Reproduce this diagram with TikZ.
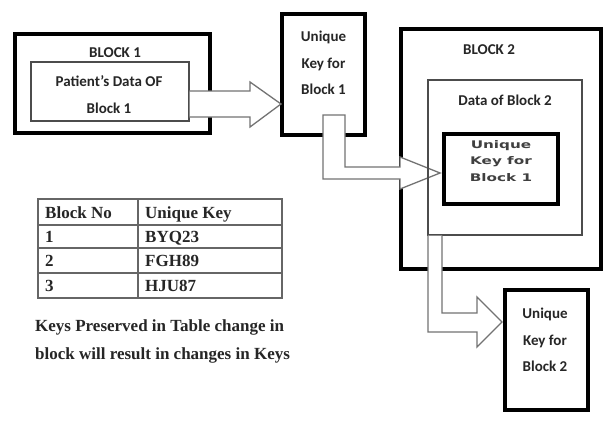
\documentclass[tikz,border=0pt]{standalone}
\usepackage{fontspec}
\setmainfont{Carlito}
\newfontfamily\tnr{Liberation Serif}
\newfontfamily\widefont[FakeStretch=1.45]{DejaVu Sans}
\usetikzlibrary{calc}
\tikzset{
  thickbox/.style={rectangle, draw=black, line width=3.5pt, fill=white, inner sep=0pt, outer sep=0pt},
  thinbox/.style={rectangle, draw=black!70, line width=1.2pt, inner sep=0pt, outer sep=0pt},
  arrowfill/.style={fill=white},
  arrowline/.style={draw=black!55, line width=1.3pt, line join=miter},
  lbl/.style={font=\bfseries\fontsize{15}{26.5}\selectfont, text=black!85, align=center, inner sep=0pt},
  widelbl/.style={font=\widefont\bfseries\fontsize{10.5}{16.5}\selectfont, text=black!75, align=center, inner sep=0pt},
  tbltxt/.style={font=\tnr\bfseries\fontsize{17}{20}\selectfont, text=black!85, anchor=base west, inner sep=0pt},
  gridline/.style={draw=black!60, line width=1.4pt},
}
\begin{document}
\begin{tikzpicture}[x=1pt,y=-1pt]
\useasboundingbox[fill=white] (0,0) rectangle (607,420);

% Block 1
\node[thickbox, minimum width=195pt, minimum height=99pt] (block1) at (112.5,83.5) {};
\node[thinbox, fill=white, minimum width=158pt, minimum height=59pt] (inner1) at (110,91.5) {};
\node[lbl] (b1lbl) at (115,53) {BLOCK 1};
\node[lbl] (p1lbl) at (109,94.5) {Patient's Data OF\\Block 1};

% Unique key for block 1
\node[thickbox, minimum width=83pt, minimum height=121pt] (key1) at (323.5,74.5) {};
\node[lbl] (k1lbl) at (323.5,63) {Unique\\Key for\\Block 1};

% Arrow 1 : inner1 -> key1
\coordinate (a1s) at (189,91);
\coordinate (a1e) at (189,117);
\coordinate (a1t) at (281,104);
\fill[arrowfill] (189.6,91) -- (250,91) -- (250,82) -- (a1t) -- (250,127) -- (250,117) -- (189.6,117) -- cycle;
\draw[arrowline] (a1s) -- (250,91) -- (250,82) -- (a1t) -- (250,127) -- (250,117) -- (a1e);

% Block 2
\node[thickbox, minimum width=200pt, minimum height=240pt] (block2) at (501,149) {};
\node[lbl] (b2lbl) at (489,50) {BLOCK 2};

% Arrow 2 : key1 -> keyin
\coordinate (a2t) at (440,173);
\fill[arrowfill] (323,115) -- (345,115) -- (345,167) -- (400,167) -- (400,157) -- (a2t) -- (400,189) -- (400,179) -- (323,179) -- cycle;
\draw[arrowline] (323,115) -- (345,115) -- (345,167) -- (400,167) -- (400,157) -- (a2t) -- (400,189) -- (400,179) -- (323,179) -- cycle;

% Data of block 2
\node[thinbox, minimum width=154pt, minimum height=155pt] (data2) at (505,157.5) {};
\node[lbl] (d2lbl) at (505,100) {Data of Block 2};

% Inner key box
\node[thickbox, minimum width=114pt, minimum height=70pt] (keyin) at (501,169) {};
\node[widelbl] (kilbl) at (501,161) {Unique\\Key for\\Block 1};

% Unique key for block 2
\node[thickbox, minimum width=83pt, minimum height=120pt] (key2) at (546.5,350) {};
\node[lbl] (k2lbl) at (545,340) {Unique\\Key for\\Block 2};

% Arrow 3 : data2 -> key2
\coordinate (a3s) at (428,235.6);
\coordinate (a3e) at (442,235.6);
\coordinate (a3t) at (502,322);
\fill[arrowfill] (a3s) -- (a3e) -- (442,313) -- (477,313) -- (477,297) -- (a3t) -- (477,347) -- (477,332) -- (428,332) -- cycle;
\draw[arrowline] (a3s) -- (428,332) -- (477,332) -- (477,347) -- (a3t) -- (477,297) -- (477,313) -- (442,313) -- (a3e);

% Table
\draw[gridline] (38,199) rectangle (282,298);
\draw[gridline] (38,225) -- (282,225);
\draw[gridline] (38,248) -- (282,248);
\draw[gridline] (38,273) -- (282,273);
\draw[gridline] (138,199) -- (138,298);
\node[tbltxt] (h1) at (45,218) {Block No};
\node[tbltxt] (h2) at (145,218) {Unique Key};
\node[tbltxt] (r1a) at (45,242.5) {1};
\node[tbltxt] (r1b) at (145,242.5) {BYQ23};
\node[tbltxt] (r2a) at (45,266.5) {2};
\node[tbltxt] (r2b) at (145,266.5) {FGH89};
\node[tbltxt] (r3a) at (45,291.5) {3};
\node[tbltxt] (r3b) at (145,291.5) {HJU87};

% Caption
\node[tbltxt] (cap1) at (35,331) {Keys Preserved in Table change in};
\node[tbltxt] (cap2) at (35,359) {block will result in changes in Keys};
\end{tikzpicture}
\end{document}
